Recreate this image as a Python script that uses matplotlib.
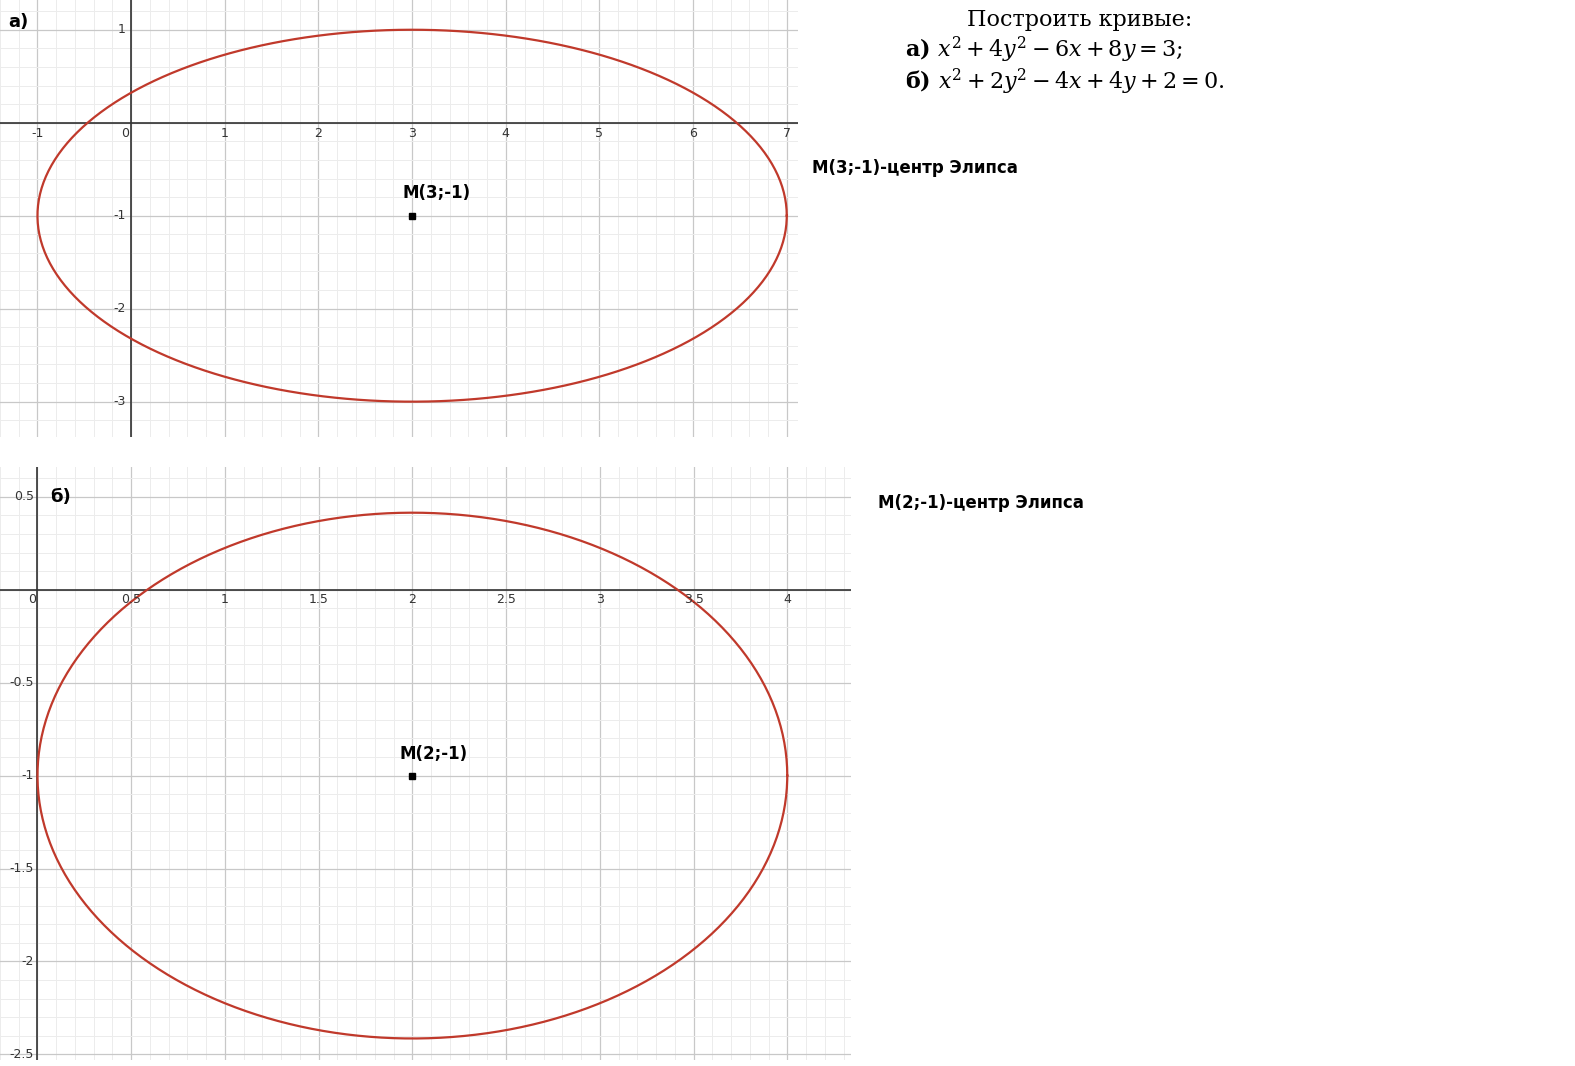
import numpy as np
import matplotlib
matplotlib.use("Agg")
import matplotlib.pyplot as plt
from matplotlib.ticker import MultipleLocator

# ellipse a) (x-3)^2/16 + (y+1)^2/4 = 1 ; b) (x-2)^2/4 + (y+1)^2/2 = 1
center_a = (3, -1)
axes_a = (4.0, 2.0)
center_b = (2, -1)
axes_b = (2.0, np.sqrt(2))
xticks_a = [-1, 0, 1, 2, 3, 4, 5, 6, 7]
yticks_a = [1, -1, -2, -3]
xticks_b = [0, 0.5, 1, 1.5, 2, 2.5, 3, 3.5, 4]
yticks_b = [0.5, -0.5, -1, -1.5, -2, -2.5]

RED = "#c0392b"
W, H = 1575, 1066
fig = plt.figure(figsize=(W / 100, H / 100), dpi=100)


def make_axes(rect_px, xlim, ylim, major, minor):
    x0, y0, x1, y1 = rect_px
    ax = fig.add_axes([x0 / W, 1 - y1 / H, (x1 - x0) / W, (y1 - y0) / H])
    ax.set_xlim(*xlim)
    ax.set_ylim(*ylim)
    ax.xaxis.set_major_locator(MultipleLocator(major))
    ax.yaxis.set_major_locator(MultipleLocator(major))
    ax.xaxis.set_minor_locator(MultipleLocator(minor))
    ax.yaxis.set_minor_locator(MultipleLocator(minor))
    ax.grid(which="major", color="#c8c8c8", lw=0.9)
    ax.grid(which="minor", color="#ececec", lw=0.7)
    ax.tick_params(which="both", length=0, labelbottom=False, labelleft=False)
    for s in ax.spines.values():
        s.set_visible(False)
    ax.axhline(0, color="#333333", lw=1.2)
    ax.axvline(0, color="#333333", lw=1.2)
    return ax


def draw_ellipse(ax, center, semi):
    t = np.linspace(0, 2 * np.pi, 400)
    ax.plot(center[0] + semi[0] * np.cos(t), center[1] + semi[1] * np.sin(t), color=RED, lw=1.6)
    ax.plot(*center, marker="s", color="black", ms=4)


# a)
ax1 = make_axes((0, 0, 798, 437), (-1.4, 7.12), (-3.38, 1.32), 1, 0.2)
draw_ellipse(ax1, center_a, axes_a)
for v in xticks_a:
    ax1.text(v - 0.06 if v == 0 else v, -0.05, f"{v}", ha="center", va="top", fontsize=9, color="#333")
for v in yticks_a:
    ax1.text(-0.06, v, f"{v}", ha="right", va="center", fontsize=9, color="#333")
ax1.text(center_a[0] - 0.1, center_a[1] + 0.15, "M(3;-1)", fontsize=12, fontweight="bold", va="bottom")
fig.text(8 / W, 1 - 22 / H, "а)", fontsize=13, fontweight="bold", va="center")

# b)
ax2 = make_axes((0, 467, 851, 1060), (-0.2, 4.34), (-2.53, 0.66), 0.5, 0.1)
draw_ellipse(ax2, center_b, axes_b)
for v in xticks_b:
    ax2.text(v - 0.03 if v == 0 else v, -0.02, f"{v:g}", ha="center", va="top", fontsize=9, color="#333")
for v in yticks_b:
    ax2.text(-0.02, v, f"{v:g}", ha="right", va="center", fontsize=9, color="#333")
ax2.text(center_b[0] - 0.07, center_b[1] + 0.07, "M(2;-1)", fontsize=12, fontweight="bold", va="bottom")
fig.text(50 / W, 1 - 497 / H, "б)", fontsize=13, fontweight="bold", va="center")

# right-hand text
fig.text(812 / W, 1 - 168 / H, "M(3;-1)-центр Элипса", fontsize=12, fontweight="bold", va="center")
fig.text(878 / W, 1 - 503 / H, "M(2;-1)-центр Элипса", fontsize=12, fontweight="bold", va="center")
plt.rcParams["mathtext.fontset"] = "dejavuserif"
fig.text(1080 / W, 1 - 20 / H, "Построить кривые:", fontsize=16, family="DejaVu Serif", ha="center", va="center")
fig.text(905 / W, 1 - 50 / H, r"а) $x^2 + 4y^2 - 6x + 8y = 3;$", fontsize=16, family="DejaVu Serif",
         fontweight="bold", va="center")
fig.text(905 / W, 1 - 82 / H, r"б) $x^2 + 2y^2 - 4x + 4y + 2 = 0.$", fontsize=16, family="DejaVu Serif",
         fontweight="bold", va="center")

fig.savefig("out.png", dpi=100)
